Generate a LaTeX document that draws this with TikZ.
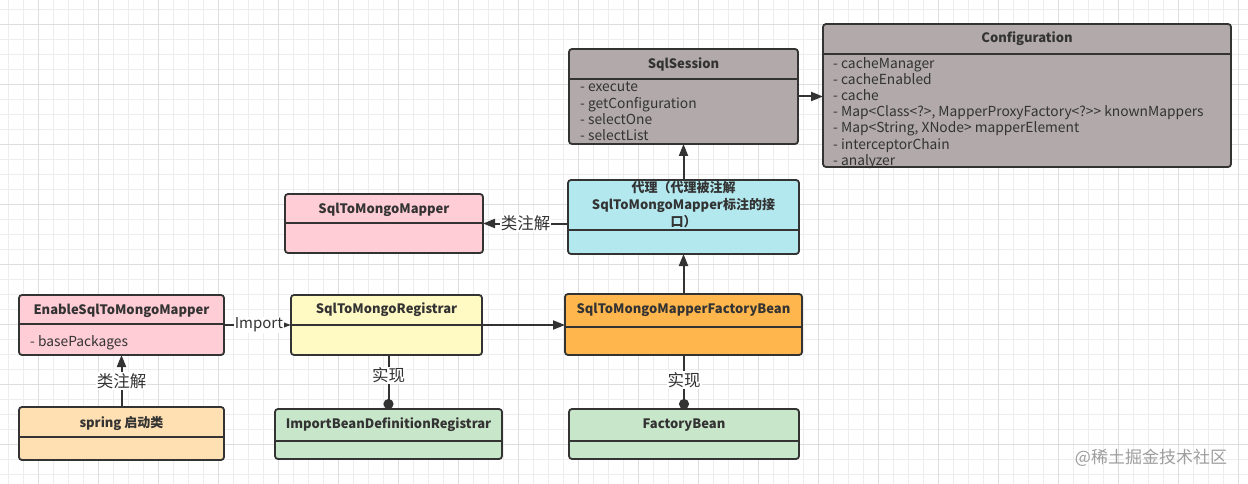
\documentclass[tikz,border=0pt]{standalone}
\usepackage{fontspec}
\setmainfont{Noto Sans CJK SC}
\usepackage{xcolor}
\usepackage{tikz}
\usetikzlibrary{arrows.meta,positioning}

\definecolor{linec}{HTML}{333333}
\definecolor{textc}{HTML}{333333}
\definecolor{gridminor}{HTML}{EDEDED}
\definecolor{gridmajor}{HTML}{DEDEDE}
\definecolor{sessionfill}{HTML}{B1A9AA}
\definecolor{proxyfill}{HTML}{B2E8EE}
\definecolor{pinkfill}{HTML}{FFCDD5}
\definecolor{yellowfill}{HTML}{FFF9C4}
\definecolor{orangefill}{HTML}{FFB74D}
\definecolor{peachfill}{HTML}{FFE0B2}
\definecolor{greenfill}{HTML}{C8E6C9}

\begin{document}
\begin{tikzpicture}[x=1pt, y=-1pt,
    box/.style={draw=linec, line width=1.8pt, rounded corners=3pt, anchor=north west, inner sep=0pt, outer sep=0pt},
    sep/.style={draw=linec, line width=1.8pt},
    head/.style={font=\bfseries\fontsize{13}{17}\selectfont, text=textc, align=center, inner sep=0pt},
    items/.style={font=\fontsize{13.8}{16.2}\selectfont, text=textc, align=left, anchor=north west, inner sep=0pt},
    arrow/.style={-{Triangle[length=12pt,width=9pt]}, line width=2pt, draw=linec},
    small arrow/.style={-{Triangle[length=9pt,width=6pt]}, line width=1.8pt, draw=linec},
    dotline/.style={-{Circle[length=10pt]}, line width=2pt, draw=linec},
    lbl/.style={fill=white, text=textc, font=\fontsize{16.5}{19}\selectfont, inner sep=1pt},
    wmtext/.style={text=black!38, font=\fontsize{17}{20}\selectfont, inner sep=0pt}
]
    \useasboundingbox (0,0) rectangle (1248,484);
    \fill[white] (0,0) rectangle (1248,484);

    % grid
    \foreach \gx in {8,23,...,1238} \draw[gridminor, line width=0.8pt] (\gx,0) -- (\gx,484);
    \foreach \gy in {9,24,...,474} \draw[gridminor, line width=0.8pt] (0,\gy) -- (1248,\gy);
    \foreach \gx in {38,98,...,1238} \draw[gridmajor, line width=0.8pt] (\gx,0) -- (\gx,484);
    \foreach \gy in {24,84,...,444} \draw[gridmajor, line width=0.8pt] (0,\gy) -- (1248,\gy);

    % top row
    \node[box, fill=sessionfill, minimum width=229pt, minimum height=95pt] (session) at (569,49) {};
    \draw[sep] ([yshift=-30pt]session.north west) -- ([yshift=-30pt]session.north east);
    \node[head] (sessionhead) at ([yshift=-15pt]session.north) {SqlSession};
    \node[items] (sessionitems) at (580,82) {- execute\\- getConfiguration\\- selectOne\\- selectList};

    \node[box, fill=sessionfill, minimum width=408pt, minimum height=143pt] (config) at (823,24) {};
    \draw[sep] ([yshift=-30pt]config.north west) -- ([yshift=-30pt]config.north east);
    \node[head] (confighead) at ([yshift=-15pt]config.north) {Configuration};
    \node[items] (configitems) at (833,57) {- cacheManager\\- cacheEnabled\\- cache\\- Map<Class<?>, MapperProxyFactory<?>{}> knownMappers\\- Map<String, XNode> mapperElement\\- interceptorChain\\- analyzer};

    % middle row
    \node[box, fill=proxyfill, minimum width=231pt, minimum height=74pt] (proxy) at (568,180) {};
    \draw[sep] ([yshift=-50pt]proxy.north west) -- ([yshift=-50pt]proxy.north east);
    \node[head] (proxyhead) at ([yshift=-25pt]proxy.north) {代理（代理被注解\\SqlToMongoMapper标注的接\\口）};

    \node[box, fill=pinkfill, minimum width=198pt, minimum height=59pt] (mapper) at (285,194) {};
    \draw[sep] ([yshift=-29pt]mapper.north west) -- ([yshift=-29pt]mapper.north east);
    \node[head] (mapperhead) at ([yshift=-16pt]mapper.north) {SqlToMongoMapper};

    % bottom rows
    \node[box, fill=pinkfill, minimum width=205pt, minimum height=60pt] (enable) at (19,295) {};
    \draw[sep] ([yshift=-29pt]enable.north west) -- ([yshift=-29pt]enable.north east);
    \node[head] (enablehead) at ([yshift=-15.5pt]enable.north) {EnableSqlToMongoMapper};
    \node[items] (enableitems) at (30,335) {- basePackages};

    \node[box, fill=yellowfill, minimum width=191pt, minimum height=60pt] (registrar) at (291,295) {};
    \draw[sep] ([yshift=-30pt]registrar.north west) -- ([yshift=-30pt]registrar.north east);
    \node[head] (registrarhead) at ([yshift=-15pt]registrar.north) {SqlToMongoRegistrar};

    \node[box, fill=orangefill, minimum width=237pt, minimum height=61pt] (factory) at (565,294) {};
    \draw[sep] ([yshift=-33pt]factory.north west) -- ([yshift=-33pt]factory.north east);
    \node[head] (factoryhead) at ([yshift=-16pt]factory.north) {SqlToMongoMapperFactoryBean};

    \node[box, fill=peachfill, minimum width=205pt, minimum height=53pt] (spring) at (19,407) {};
    \draw[sep] ([yshift=-30pt]spring.north west) -- ([yshift=-30pt]spring.north east);
    \node[head] (springhead) at ([yshift=-16pt]spring.north) {spring 启动类};

    \node[box, fill=greenfill, minimum width=227pt, minimum height=50pt] (importreg) at (275,409) {};
    \draw[sep] ([yshift=-32pt]importreg.north west) -- ([yshift=-32pt]importreg.north east);
    \node[head] (importreghead) at ([yshift=-16pt]importreg.north) {ImportBeanDefinitionRegistrar};

    \node[box, fill=greenfill, minimum width=230pt, minimum height=50pt] (factorybean) at (569,409) {};
    \draw[sep] ([yshift=-32pt]factorybean.north west) -- ([yshift=-32pt]factorybean.north east);
    \node[head] (factorybeanhead) at ([yshift=-16pt]factorybean.north) {FactoryBean};

    % connectors
    \draw[arrow] (session.east) -- (session.east -| config.west);
    \draw[arrow] (proxy) -- (session);
    \draw[arrow] (proxy.west |- mapper.east) -- node[lbl] (mapperlbl) {类注解} (mapper.east);
    \draw[arrow] (factory) -- (proxy);
    \draw[small arrow] (enable.east) -- node[lbl, font=\fontsize{15}{18}\selectfont, pos=0.52] (importlbl) {Import} (registrar.west);
    \draw[arrow] (registrar.east) -- (registrar.east -| factory.west);
    \draw[arrow] (spring) -- node[lbl] (springlbl) {类注解} (enable);
    \draw[dotline] (importreg.north |- registrar.south) -- node[lbl, pos=0.38] (implleft) {实现} (importreg.north);
    \draw[dotline] (factory.south -| factorybean.north) -- node[lbl, pos=0.46] (implright) {实现} (factorybean.north);

    % watermark
    \node[wmtext] (watermark) at (1151,458) {@稀土掘金技术社区};
\end{tikzpicture}
\end{document}
